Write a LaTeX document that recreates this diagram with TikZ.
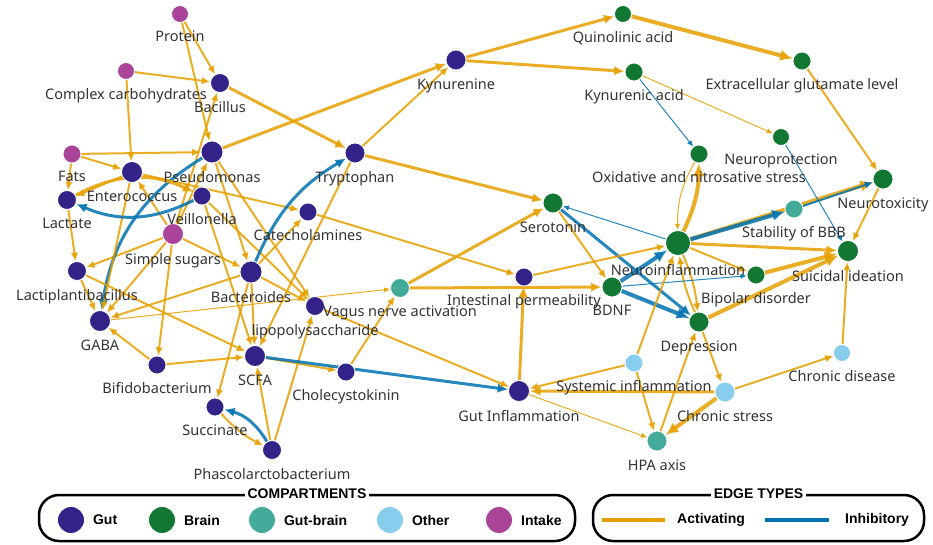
\documentclass[tikz,border=0pt]{standalone}
\usepackage{fontspec}
\setmainfont{Noto Sans}
\newfontfamily\legfont{Liberation Sans}
\usepackage{tikz}
\usetikzlibrary{arrows.meta,positioning,backgrounds}
\definecolor{cGut}{HTML}{332288}
\definecolor{cBrain}{HTML}{117733}
\definecolor{cGutBrain}{HTML}{44AA99}
\definecolor{cOther}{HTML}{88CCEE}
\definecolor{cIntake}{HTML}{AA4499}
\definecolor{cAct}{HTML}{E69F00}
\definecolor{cInh}{HTML}{0072B2}
\definecolor{cText}{HTML}{333333}
\tikzset{
  vtx/.style={circle, draw=white, line width=0.8pt, inner sep=0pt},
  gut/.style={vtx, fill=cGut},
  brain/.style={vtx, fill=cBrain},
  gutbrain/.style={vtx, fill=cGutBrain},
  other/.style={vtx, fill=cOther},
  intake/.style={vtx, fill=cIntake},
  lbl/.style={font=\fontsize{14.5}{17}\selectfont, text=cText, inner sep=0.5pt},
  act/.style={-{Latex[length=4pt 2.2, width=3.5pt 2]}, draw=cAct, opacity=.85},
  inh/.style={-{Latex[length=4pt 2.2, width=3.5pt 2]}, draw=cInh, opacity=.85},
  w1/.style={line width=1pt},
  w2/.style={line width=2pt},
  w3/.style={line width=3pt},
  w4/.style={line width=4pt},
  legbox/.style={rectangle, draw=black, line width=2.5pt, rounded corners=20pt},
  legtitle/.style={fill=white, inner xsep=3pt, inner ysep=1pt, font={\legfont\bfseries\fontsize{14}{16}\selectfont}},
  legtext/.style={inner sep=0pt, font={\legfont\bfseries\fontsize{14}{16}\selectfont}},
}

\begin{document}
\begin{tikzpicture}[x=1pt, y=-1pt, label distance=7.5pt, every label/.style={lbl}]
  \useasboundingbox (0,0) rectangle (933,544);
  % intake
  \node[intake, minimum size=17pt, label=below:Protein] (protein) at (180,14) {};
  \node[intake, minimum size=17pt, label=below:Complex carbohydrates] (complex) at (126,71) {};
  \node[intake, minimum size=18pt, label=below:Fats] (fats) at (72,154) {};
  \node[intake, minimum size=21pt, label=below:Simple sugars] (sugars) at (173,234) {};
  % gut
  \node[gut, minimum size=19pt, label=below:Bacillus] (bacillus) at (220,83) {};
  \node[gut, minimum size=22pt, label=below:Pseudomonas] (pseudomonas) at (212,152) {};
  \node[gut, minimum size=21pt, label=below:Enterococcus] (enterococcus) at (132,172) {};
  \node[gut, minimum size=19pt, label=below:Lactate] (lactate) at (67,200) {};
  \node[gut, minimum size=18pt, label=below:Veillonella] (veillonella) at (202,196) {};
  \node[gut, minimum size=19pt, label=below:Lactiplantibacillus] (lactiplanti) at (77,271) {};
  \node[gut, minimum size=21pt, label=below:GABA] (gaba) at (100,321) {};
  \node[gut, minimum size=18pt, label=below:Catecholamines] (catechol) at (308,212) {};
  \node[gut, minimum size=20pt, label=below:Tryptophan] (tryptophan) at (355,153) {};
  \node[gut, minimum size=20pt, label=below:Kynurenine] (kynurenine) at (456,60) {};
  \node[gut, minimum size=22pt, label=below:Bacteroides] (bacteroides) at (251,272) {};
  \node[gut, minimum size=19pt, label=below:lipopolysaccharide] (lps) at (315,306) {};
  \node[gut, minimum size=18pt, label=below:Intestinal permeability] (intperm) at (524,277) {};
  \node[gut, minimum size=21pt, label=below:SCFA] (scfa) at (255,356) {};
  \node[gut, minimum size=18pt, label=below:Bifidobacterium] (bifido) at (157,365) {};
  \node[gut, minimum size=18pt, label=below:Cholecystokinin] (cck) at (346,372) {};
  \node[gut, minimum size=18pt, label=below:Succinate] (succinate) at (215,407) {};
  \node[gut, minimum size=19pt, label=below:Phascolarctobacterium] (phasco) at (272,450) {};
  \node[gut, minimum size=21pt, label=below:Gut Inflammation] (gutinfl) at (519,391) {};
  % gut-brain
  \node[gutbrain, minimum size=19pt, label=below:Vagus nerve activation] (vagus) at (400,288) {};
  \node[gutbrain, minimum size=18pt, label=below:Stability of BBB] (bbb) at (794,209) {};
  \node[gutbrain, minimum size=20pt, label=below:HPA axis] (hpa) at (657,441) {};
  % brain
  \node[brain, minimum size=17pt, label=below:Quinolinic acid] (quinolinic) at (623,14) {};
  \node[brain, minimum size=18pt, label=below:Kynurenic acid] (kynurenic) at (634,72) {};
  \node[brain, minimum size=18pt, label=below:Extracellular glutamate level] (glutamate) at (802,61) {};
  \node[brain, minimum size=17pt, label=below:Neuroprotection] (neuroprot) at (781,137) {};
  \node[brain, minimum size=18pt, label=below:Oxidative and nitrosative stress] (oxidative) at (699,154) {};
  \node[brain, minimum size=20pt, label=below:Neurotoxicity] (neurotox) at (883,179) {};
  \node[brain, minimum size=20pt, label=below:Serotonin] (serotonin) at (553,203) {};
  \node[brain, minimum size=25pt, label=below:Neuroinflammation] (neuroinfl) at (678,243) {};
  \node[brain, minimum size=21pt, label=below:Suicidal ideation] (suicidal) at (848,251) {};
  \node[brain, minimum size=18pt, label=below:Bipolar disorder] (bipolar) at (756,275) {};
  \node[brain, minimum size=20pt, label=below:BDNF] (bdnf) at (612,287) {};
  \node[brain, minimum size=20pt, label=below:Depression] (depression) at (699,322) {};
  % other
  \node[other, minimum size=18pt, label=below:Systemic inflammation] (systemic) at (634,363) {};
  \node[other, minimum size=17pt, label=below:Chronic disease] (chronicdis) at (842,353) {};
  \node[other, minimum size=20pt, label=below:Chronic stress] (chronicstress) at (725,392) {};

  \begin{scope}[on background layer]
    % intake
    \draw[act, w2] (protein) -- (bacillus);
    \draw[act, w2] (protein) -- (pseudomonas);
    \draw[act, w2] (complex) -- (bacillus);
    \draw[act, w2] (complex) -- (enterococcus);
    \draw[act, w2] (fats) -- (pseudomonas);
    \draw[act, w2] (fats) -- (enterococcus);
    \draw[act, w2] (fats) -- (lactate);
    \draw[act, w2] (sugars) -- (bacillus);
    \draw[act, w2] (sugars) -- (pseudomonas);
    \draw[act, w2] (sugars) -- (enterococcus);
    \draw[act, w2] (sugars) -- (lactiplanti);
    \draw[act, w2] (sugars) -- (bacteroides);
    \draw[act, w2] (sugars) -- (gaba);
    \draw[act, w2] (sugars) -- (bifido);
    % microbes
    \draw[act, w3] (bacillus) -- (tryptophan);
    \draw[act, w3] (pseudomonas) -- (kynurenine);
    \draw[act, w2] (pseudomonas) -- (lps);
    \draw[act, w2] (pseudomonas) -- (bacteroides);
    \draw[inh, w3] (pseudomonas) to[bend right=25] (gaba);
    \draw[act, w2] (enterococcus) -- (lactate);
    \draw[act, w2] (enterococcus) -- (catechol);
    \draw[act, w2] (enterococcus) -- (gaba);
    \draw[act, w3] (lactate) to[bend left=27] (veillonella);
    \draw[inh, w3] (veillonella) to[bend left=25] (lactate);
    \draw[act, w2] (lactate) -- (lactiplanti);
    \draw[act, w2] (lactiplanti) -- (gaba);
    \draw[act, w2] (lactiplanti) -- (scfa);
    \draw[act, w2] (veillonella) -- (lps);
    \draw[act, w2] (veillonella) -- (scfa);
    \draw[act, w2] (bacteroides) -- (gaba);
    \draw[act, w2] (bacteroides) -- (scfa);
    \draw[act, w2] (bacteroides) -- (succinate);
    \draw[act, w2] (bacteroides) -- (catechol);
    \draw[act, w2] (bacteroides) -- (lps);
    \draw[inh, w3] (bacteroides) to[bend left=18] (tryptophan);
    \draw[act, w2] (bifido) -- (gaba);
    \draw[act, w2] (bifido) -- (scfa);
    \draw[act, w2] (succinate) to[bend right=10] (phasco);
    \draw[inh, w3] (phasco) to[bend right=22] (succinate);
    \draw[act, w2] (phasco) -- (lps);
    \draw[act, w2] (phasco) -- (scfa);
    % metabolites
    \draw[act, w2] (catechol) -- (intperm);
    \draw[act, w2] (tryptophan) -- (kynurenine);
    \draw[act, w3] (tryptophan) -- (serotonin);
    \draw[act, w2] (tryptophan) -- (scfa);
    \draw[act, w3] (kynurenine) -- (quinolinic);
    \draw[act, w3] (kynurenine) -- (kynurenic);
    \draw[act, w4] (quinolinic) -- (glutamate);
    \draw[act, w1] (kynurenic) -- (neuroprot);
    \draw[inh, w1] (kynurenic) -- (oxidative);
    \draw[act, w2] (glutamate) -- (neurotox);
    \draw[act, w1] (gaba) -- (vagus);
    \draw[act, w2] (scfa) -- (cck);
    \draw[inh, w3] (scfa) -- (gutinfl);
    \draw[act, w2] (cck) -- (vagus);
    \draw[act, w2] (lps) -- (gutinfl);
    \draw[act, w3] (vagus) -- (serotonin);
    \draw[act, w3] (vagus) -- (bdnf);
    \draw[act, w2] (serotonin) -- (bdnf);
    \draw[inh, w3] (serotonin) -- (depression);
    \draw[act, w2] (intperm) -- (neuroinfl);
    \draw[act, w3] (gutinfl) -- (intperm);
    \draw[act, w1] (gutinfl) -- (hpa);
    % brain
    \draw[act, w4] (neuroinfl) to[bend right=12] (oxidative);
    \draw[act, w1] (oxidative) to[bend right=15] (neuroinfl);
    \draw[act, w4] (neuroinfl) -- (neurotox);
    \draw[inh, w4] (neuroinfl) -- (bbb);
    \draw[inh, w2] (bbb) -- (neurotox);
    \draw[inh, w1] (neuroprot) -- (suicidal);
    \draw[inh, w1] (neuroinfl) -- (serotonin);
    \draw[act, w2] (neurotox) -- (suicidal);
    \draw[act, w3] (neuroinfl) -- (suicidal);
    \draw[act, w2] (neuroinfl) -- (bipolar);
    \draw[act, w4] (bipolar) -- (suicidal);
    \draw[act, w4] (depression) -- (suicidal);
    \draw[act, w2] (neuroinfl) to[bend left=8] (depression);
    \draw[act, w2] (depression) to[bend left=8] (neuroinfl);
    \draw[inh, w4] (bdnf) -- (neuroinfl);
    \draw[inh, w1] (bdnf) -- (bipolar);
    \draw[inh, w4] (bdnf) -- (depression);
    % stress
    \draw[act, w2] (systemic) -- (gutinfl);
    \draw[act, w2] (systemic) -- (neuroinfl);
    \draw[act, w2] (systemic) -- (hpa);
    \draw[act, w3] (chronicstress) -- (gutinfl);
    \draw[act, w4] (chronicstress) -- (hpa);
    \draw[act, w2] (chronicstress) -- (chronicdis);
    \draw[act, w2] (chronicdis) -- (suicidal);
    \draw[act, w2] (hpa) -- (depression);
    \draw[act, w2] (depression) -- (chronicstress);
  \end{scope}

  % legend
  \node[legbox, minimum width=536pt, minimum height=46pt] (compbox) at (307,518) {};
  \node[legtitle] (comptitle) at (compbox.north) {COMPARTMENTS};
  \node[gut, minimum size=27pt] (keygut) at (71,520) {};
  \node[legtext, right=8pt of keygut] (keyguttext) {Gut};
  \node[brain, minimum size=27pt] (keybrain) at (162,520) {};
  \node[legtext, right=8pt of keybrain] (keybraintext) {Brain};
  \node[gutbrain, minimum size=27pt] (keygutbrain) at (262,520) {};
  \node[legtext, right=8pt of keygutbrain] (keygutbraintext) {Gut-brain};
  \node[other, minimum size=27pt] (keyother) at (390,520) {};
  \node[legtext, right=8pt of keyother] (keyothertext) {Other};
  \node[intake, minimum size=27pt] (keyintake) at (499,520) {};
  \node[legtext, right=8pt of keyintake] (keyintaketext) {Intake};

  \node[legbox, minimum width=331pt, minimum height=46pt] (edgebox) at (758.5,518) {};
  \node[legtitle] (edgetitle) at (edgebox.north) {EDGE TYPES};
  \coordinate (keyactA) at (602,520);
  \coordinate (keyactB) at (665,520);
  \draw[cAct, line width=4pt] (keyactA) -- (keyactB);
  \node[legtext, right=12pt of keyactB] (keyacttext) {Activating};
  \coordinate (keyinhA) at (765,520);
  \coordinate (keyinhB) at (829,520);
  \draw[cInh, line width=4pt] (keyinhA) -- (keyinhB);
  \node[legtext, right=16pt of keyinhB] (keyinhtext) {Inhibitory};
\end{tikzpicture}
\end{document}
